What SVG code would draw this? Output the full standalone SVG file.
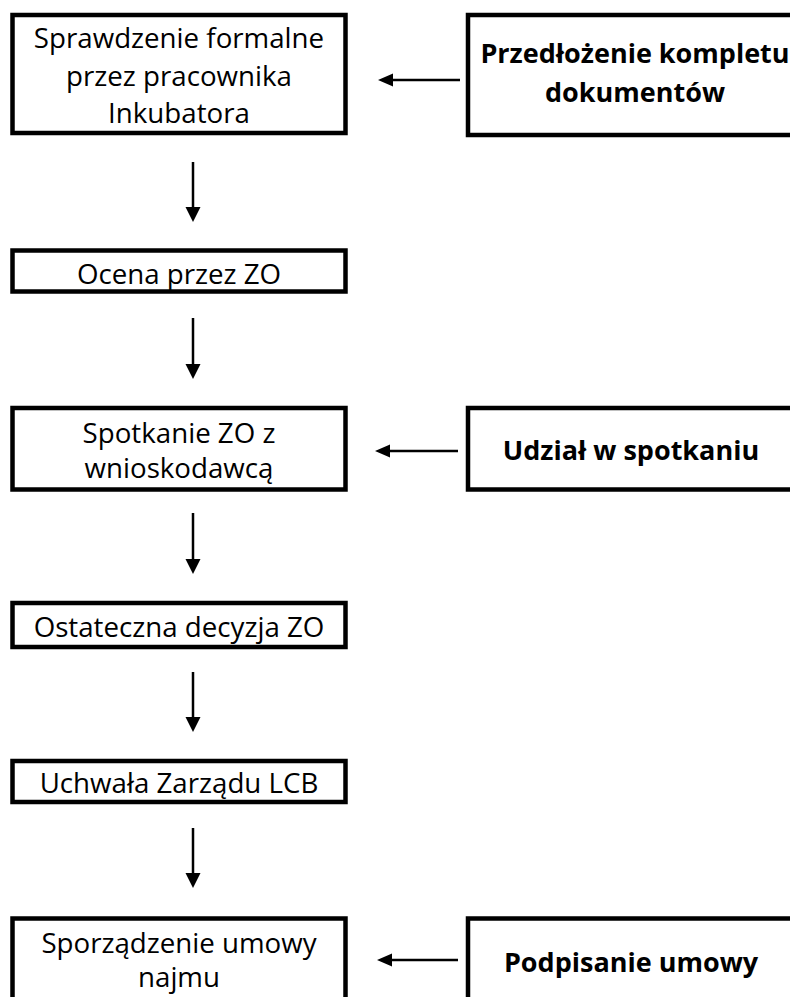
<svg xmlns="http://www.w3.org/2000/svg" width="790" height="997" viewBox="0 0 790 997">
<style>
.box{fill:#fff;stroke:#000;stroke-width:4.5}
.t{font-family:"Open Sans","Liberation Sans",sans-serif;font-size:27.7px;fill:#000;text-anchor:middle}
.b{font-weight:bold;font-size:27px}
.ln{stroke:#000;stroke-width:2.5;fill:none}
.hd{fill:#000}
</style>
<g id="n1"><rect class="box" x="12.5" y="15" width="333" height="118"/>
<text class="t" x="179" y="48">Sprawdzenie formalne</text>
<text class="t" x="179" y="85.5">przez pracownika</text>
<text class="t" x="179" y="123">Inkubatora</text></g>
<g id="n2"><rect class="box" x="12.5" y="250.5" width="333" height="41"/>
<text class="t" x="179" y="284">Ocena przez ZO</text></g>
<g id="n3"><rect class="box" x="12.5" y="408" width="333" height="81.5"/>
<text class="t" x="179" y="443">Spotkanie ZO z</text>
<text class="t" x="179" y="478">wnioskodawcą</text></g>
<g id="n4"><rect class="box" x="12.5" y="603" width="333" height="44"/>
<text class="t" x="179" y="637">Ostateczna decyzja ZO</text></g>
<g id="n5"><rect class="box" x="12.5" y="761" width="333" height="41"/>
<text class="t" x="179" y="793">Uchwała Zarządu LCB</text></g>
<g id="n6"><rect class="box" x="12.5" y="918.5" width="333" height="100"/>
<text class="t" x="179" y="953">Sporządzenie umowy</text>
<text class="t" x="179" y="987">najmu</text></g>
<g id="r1"><rect class="box" x="468" y="15" width="360" height="120"/>
<text class="t b" x="635" y="63">Przedłożenie kompletu</text>
<text class="t b" x="635" y="102">dokumentów</text></g>
<g id="r2"><rect class="box" x="468" y="408" width="360" height="81.5"/>
<text class="t b" x="631" y="460">Udział w spotkaniu</text></g>
<g id="r3"><rect class="box" x="468" y="918.5" width="360" height="100"/>
<text class="t b" x="631" y="972">Podpisanie umowy</text></g>
<g id="connectors">
<line class="ln" x1="193" y1="162" x2="193" y2="208"/><polygon class="hd" points="185.5,207 200.5,207 193,222"/>
<line class="ln" x1="193" y1="318" x2="193" y2="365"/><polygon class="hd" points="185.5,364 200.5,364 193,379"/>
<line class="ln" x1="193" y1="513" x2="193" y2="560"/><polygon class="hd" points="185.5,559 200.5,559 193,574"/>
<line class="ln" x1="193" y1="672" x2="193" y2="718"/><polygon class="hd" points="185.5,717 200.5,717 193,732"/>
<line class="ln" x1="193" y1="828" x2="193" y2="874"/><polygon class="hd" points="185.5,873 200.5,873 193,888"/>
<line class="ln" x1="460" y1="80" x2="392" y2="80"/><polygon class="hd" points="393,73.5 393,86.5 378,80"/>
<line class="ln" x1="458" y1="451" x2="389" y2="451"/><polygon class="hd" points="390,444.5 390,457.5 375,451"/>
<line class="ln" x1="458" y1="960" x2="391" y2="960"/><polygon class="hd" points="392,953.5 392,966.5 377,960"/>
</g>
</svg>
